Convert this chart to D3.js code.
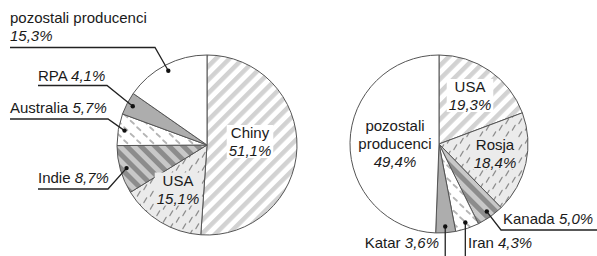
<!DOCTYPE html>
<html>
<head>
<meta charset="utf-8">
<script src="https://cdn.jsdelivr.net/npm/d3@7"></script>
<style>
body { margin: 0; background: #fff; }
svg { display: block; font-family: "Liberation Sans", Arial, sans-serif; }
</style>
</head>
<body>
<div id="chart-area"></div>
<script>
// Udzial w produkcji (%) - lewy wykres
var leftCategories = ["Chiny", "USA", "Indie", "Australia", "RPA", "pozostali producenci"];
var leftValues = [51.1, 15.1, 8.7, 5.7, 4.1, 15.3];
// prawy wykres
var rightCategories = ["USA", "Rosja", "Kanada", "Iran", "Katar", "pozostali producenci"];
var rightValues = [19.3, 18.4, 5.0, 4.3, 3.6, 49.4];

var width = 597,
    height = 256;

var svg = d3.select("#chart-area").append("svg")
    .attr("width", width)
    .attr("height", height);

var defs = svg.append("defs");

function stripes(id, bg, fg, period, thick, angle) {
    var p = defs.append("pattern")
        .attr("id", id)
        .attr("patternUnits", "userSpaceOnUse")
        .attr("width", period)
        .attr("height", period)
        .attr("patternTransform", "rotate(" + angle + ")");
    p.append("rect").attr("width", period).attr("height", period).attr("fill", bg);
    p.append("rect").attr("width", thick).attr("height", period).attr("fill", fg);
}

// krotkie kreski na siatce przesunietej co drugi rzad
function dashes(id, bg, fg, size, hx, hy, sw) {
    var p = defs.append("pattern")
        .attr("id", id)
        .attr("patternUnits", "userSpaceOnUse")
        .attr("width", size)
        .attr("height", size);
    p.append("rect").attr("width", size).attr("height", size).attr("fill", bg);
    [[size / 4, size / 4], [size * 3 / 4, size * 3 / 4]].forEach(function(c) {
        p.append("line")
            .attr("x1", c[0] - hx).attr("y1", c[1] - hy)
            .attr("x2", c[0] + hx).attr("y2", c[1] + hy)
            .attr("stroke", fg)
            .attr("stroke-width", sw)
            .attr("stroke-linecap", "round");
    });
}

stripes("stripeLight", "#ffffff", "#d2d2d2", 9.5, 4.5, 45);
dashes("dashLight", "#ebebeb", "#8e8e8e", 13, 1.4, -2.4, 1.2);
stripes("stripeDark", "#c8c8c8", "#8c8c8c", 10, 5, -45);
dashes("dashWhite", "#ffffff", "#b4b4b4", 13, 1.7, 1.5, 1.7);

// wypelnienia wg kolejnosci wycinkow (jednakowe dla obu kol)
var fills = ["url(#stripeLight)", "url(#dashLight)", "url(#stripeDark)", "url(#dashWhite)", "#adadad", "#ffffff"];
var boxFills = ["#ffffff", "#ebebeb", "#c8c8c8", "#ffffff", "#adadad", "#ffffff"];

var fmt = function(v) { return d3.format(".1f")(v).replace(".", ",") + "%"; };

var pie = d3.pie().sort(null).value(function(d) { return d; });

function addText(g, x, y, parts, anchor) {
    var t = g.append("text")
        .attr("x", x)
        .attr("y", y)
        .attr("font-size", "15px")
        .attr("fill", "#1a1a1a")
        .attr("text-anchor", anchor || "start");
    parts.forEach(function(p) {
        t.append("tspan")
            .attr("font-style", p.italic ? "italic" : "normal")
            .text(p.t);
    });
    return t;
}

function drawPie(opts) {
    var g = svg.append("g").attr("transform", "translate(" + opts.cx + "," + opts.cy + ")");
    var arcs = pie(opts.values);
    var arc = d3.arc().innerRadius(0).outerRadius(opts.r);
    var dotArc = d3.arc().innerRadius(opts.r * 0.93).outerRadius(opts.r * 0.93);

    g.selectAll("path.slice")
        .data(arcs)
        .enter().append("path")
        .attr("class", "slice")
        .attr("d", arc)
        .attr("fill", function(d, i) { return fills[i]; })
        .attr("stroke", "#555")
        .attr("stroke-width", 1)
        .attr("stroke-linejoin", "round");

    var line = d3.line();

    opts.labels.forEach(function(lab, i) {
        var d = arcs[i];
        var name = opts.categories[i];
        var val = fmt(opts.values[i]);
        if (lab.type === "inside") {
            var lines = lab.split ? name.split(" ").map(function(w) { return [{t: w}]; }) : [[{t: name}]];
            lines.push([{t: val, italic: true}]);
            var lg = g.append("g");
            var n = lines.length;
            lines.forEach(function(parts, k) {
                addText(lg, lab.dx, lab.dy + (k - (n - 1) / 2) * 18 + 5.5, parts, "middle");
            });
            if (lab.box) {
                var bb = lg.node().getBBox();
                lg.insert("rect", "text")
                    .attr("x", bb.x - 2)
                    .attr("y", bb.y + 1)
                    .attr("width", bb.width + 4)
                    .attr("height", bb.height - 2)
                    .attr("fill", boxFills[i]);
            }
        } else {
            var dot = dotArc.centroid(d);
            var pts;
            if (lab.type === "vertical") {
                pts = [dot, [dot[0], height + 5]];
            } else {
                pts = [dot, [lab.elbow - opts.cx, lab.uy - opts.cy], [lab.end - opts.cx, lab.uy - opts.cy]];
            }
            g.append("path")
                .attr("d", line(pts))
                .attr("fill", "none")
                .attr("stroke", "#222")
                .attr("stroke-width", 1.3);
            g.append("circle")
                .attr("cx", dot[0])
                .attr("cy", dot[1])
                .attr("r", 2.2)
                .attr("fill", "#111");
            var x = lab.tx - opts.cx;
            if (lab.twoLines) {
                addText(g, x, lab.ty - opts.cy - 18, [{t: name}], lab.anchor);
                addText(g, x, lab.ty - opts.cy, [{t: val, italic: true}], lab.anchor);
            } else {
                addText(g, x, lab.ty - opts.cy, [{t: name + " "}, {t: val, italic: true}], lab.anchor);
            }
        }
    });
}

drawPie({
    cx: 207, cy: 145, r: 90,
    categories: leftCategories,
    values: leftValues,
    labels: [
        {type: "inside", dx: 43, dy: -3.5, box: true},
        {type: "inside", dx: -29, dy: 44, box: true},
        {type: "outside", tx: 38, ty: 183, uy: 189, elbow: 108, end: 38},
        {type: "outside", tx: 10, ty: 113, uy: 119, elbow: 108, end: 10},
        {type: "outside", tx: 38, ty: 81, uy: 85.5, elbow: 107, end: 38},
        {type: "outside", tx: 10, ty: 41, uy: 47.5, elbow: 155, end: 10, twoLines: true}
    ]
});

drawPie({
    cx: 439, cy: 144, r: 89,
    categories: rightCategories,
    values: rightValues,
    labels: [
        {type: "inside", dx: 31, dy: -48.5, box: true},
        {type: "inside", dx: 56, dy: 9, box: true},
        {type: "outside", tx: 503, ty: 224, uy: 230, elbow: 501, end: 597},
        {type: "vertical", tx: 468, ty: 248},
        {type: "vertical", tx: 439, ty: 248, anchor: "end"},
        {type: "inside", dx: -44, dy: -1, split: true}
    ]
});
</script>
</body>
</html>
